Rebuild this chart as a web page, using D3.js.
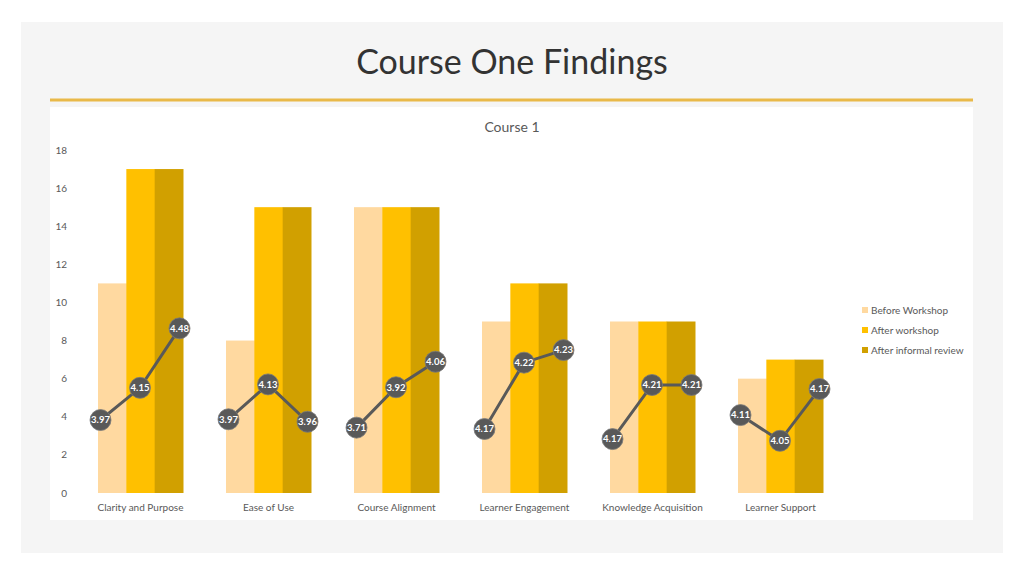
<!DOCTYPE html>
<html lang="en">

<head>
    <meta charset="UTF-8">
    <title>Course One Findings</title>
    <script src="https://d3js.org/d3.v7.min.js"></script>
    <style>
        body,
        html {
            margin: 0;
            padding: 0;
            overflow: hidden;
            background: #fff;
        }

        text {
            font-family: Lato, "Open Sans", sans-serif;
        }

        .tick-label,
        .cat-label,
        .legend-label {
            font-size: 10px;
            fill: #595959;
        }

        .mean-label {
            font-size: 9.5px;
            font-weight: bold;
            fill: #fff;
            text-anchor: middle;
        }
    </style>
</head>

<body>
    <svg width="1024" height="576" id="chart"></svg>
    <script>
        const categories = ["Clarity and Purpose", "Ease of Use", "Course Alignment",
            "Learner Engagement", "Knowledge Acquisition", "Learner Support"];
        const series = ["Before Workshop", "After workshop", "After informal review"];
        const colors = ["#FFD9A0", "#FFC000", "#D1A000"];

        // bar values (counts)
        const beforeCounts = [11, 8, 15, 9, 9, 6];
        const afterCounts = [17, 15, 15, 11, 9, 7];
        const reviewCounts = [17, 15, 15, 11, 9, 7];

        // mean scores shown in the dark markers
        const beforeMean = [3.97, 3.97, 3.71, 4.17, 4.17, 4.11];
        const afterMean = [4.15, 4.13, 3.92, 4.22, 4.21, 4.05];
        const reviewMean = [4.48, 3.96, 4.06, 4.23, 4.21, 4.17];

        // height at which each marker sits, read against the left axis
        const beforeLevel = [3.83, 3.87, 3.43, 3.36, 2.83, 4.09];
        const afterLevel = [5.52, 5.70, 5.55, 6.84, 5.67, 2.74];
        const reviewLevel = [8.64, 3.74, 6.89, 7.50, 5.67, 5.46];

        const yTicks = [0, 2, 4, 6, 8, 10, 12, 14, 16, 18];

        const counts = [beforeCounts, afterCounts, reviewCounts];
        const means = [beforeMean, afterMean, reviewMean];
        const levels = [beforeLevel, afterLevel, reviewLevel];

        const svg = d3.select("#chart");

        // slide background
        svg.append("rect").attr("x", 21).attr("y", 22).attr("width", 982).attr("height", 531)
            .attr("fill", "#f5f5f5");

        svg.append("text")
            .attr("x", 512).attr("y", 74)
            .attr("text-anchor", "middle")
            .attr("font-size", 34)
            .attr("fill", "#333")
            .text("Course One Findings");

        svg.append("line")
            .attr("x1", 50).attr("x2", 973).attr("y1", 100).attr("y2", 100)
            .attr("stroke", "#E9B949").attr("stroke-width", 3);

        // chart area
        svg.append("rect").attr("x", 50).attr("y", 107).attr("width", 923).attr("height", 413)
            .attr("fill", "#fff");

        svg.append("text")
            .attr("x", 512).attr("y", 132)
            .attr("text-anchor", "middle")
            .attr("font-size", 14)
            .attr("fill", "#595959")
            .text("Course 1");

        const y = d3.scaleLinear().domain([0, 18]).range([493, 150]);

        const x = d3.scaleBand()
            .domain(categories)
            .range([76.5, 844.5])
            .paddingInner(0.336)
            .paddingOuter(0.168);

        const xs = d3.scaleBand().domain(series).range([0, x.bandwidth()]);

        // marker offsets from the group centre
        const xp = d3.scalePoint().domain(series).range([-40, 39]);

        // y axis labels
        svg.append("g")
            .selectAll("text")
            .data(yTicks)
            .join("text")
            .attr("class", "tick-label")
            .attr("x", 67)
            .attr("y", d => y(d))
            .attr("dy", "0.35em")
            .attr("text-anchor", "end")
            .text(d => d);

        // bars
        const groups = svg.append("g")
            .selectAll("g")
            .data(categories)
            .join("g")
            .attr("transform", d => `translate(${x(d)},0)`);

        groups.selectAll("rect")
            .data((c, i) => series.map((s, j) => ({ s: s, v: counts[j][i], color: colors[j] })))
            .join("rect")
            .attr("x", d => xs(d.s))
            .attr("width", xs.bandwidth() + 0.5)
            .attr("y", d => y(d.v))
            .attr("height", d => y(0) - y(d.v))
            .attr("fill", d => d.color);

        // category labels
        svg.append("g")
            .selectAll("text")
            .data(categories)
            .join("text")
            .attr("class", "cat-label")
            .attr("x", d => x(d) + x.bandwidth() / 2)
            .attr("y", 511)
            .attr("text-anchor", "middle")
            .text(d => d);

        // mean score lines, one per category
        const line = d3.line().x(d => d.x).y(d => d.y);

        const pts = categories.map((c, i) => series.map((s, j) => ({
            x: x(c) + x.bandwidth() / 2 + xp(s),
            y: y(levels[j][i]),
            v: means[j][i]
        })));

        const meanG = svg.append("g");

        meanG.selectAll("path")
            .data(pts)
            .join("path")
            .attr("d", line)
            .attr("fill", "none")
            .attr("stroke", "#595959")
            .attr("stroke-width", 3);

        const markers = meanG.selectAll("g")
            .data(pts.flat())
            .join("g")
            .attr("transform", d => `translate(${d.x},${d.y})`);

        markers.append("circle")
            .attr("r", 10.5)
            .attr("fill", "#595959")
            .attr("stroke", "#7a7a7a")
            .attr("stroke-width", 0.8);

        markers.append("text")
            .attr("class", "mean-label")
            .attr("dy", "0.35em")
            .text(d => d3.format(".2f")(d.v));

        // legend
        const legend = svg.append("g")
            .selectAll("g")
            .data(series)
            .join("g")
            .attr("transform", (d, i) => `translate(862,${310 + i * 20})`);

        legend.append("rect")
            .attr("x", 0).attr("y", -3)
            .attr("width", 6).attr("height", 6)
            .attr("fill", (d, i) => colors[i]);

        legend.append("text")
            .attr("class", "legend-label")
            .attr("x", 9)
            .attr("dy", "0.35em")
            .text(d => d);
    </script>
</body>

</html>
